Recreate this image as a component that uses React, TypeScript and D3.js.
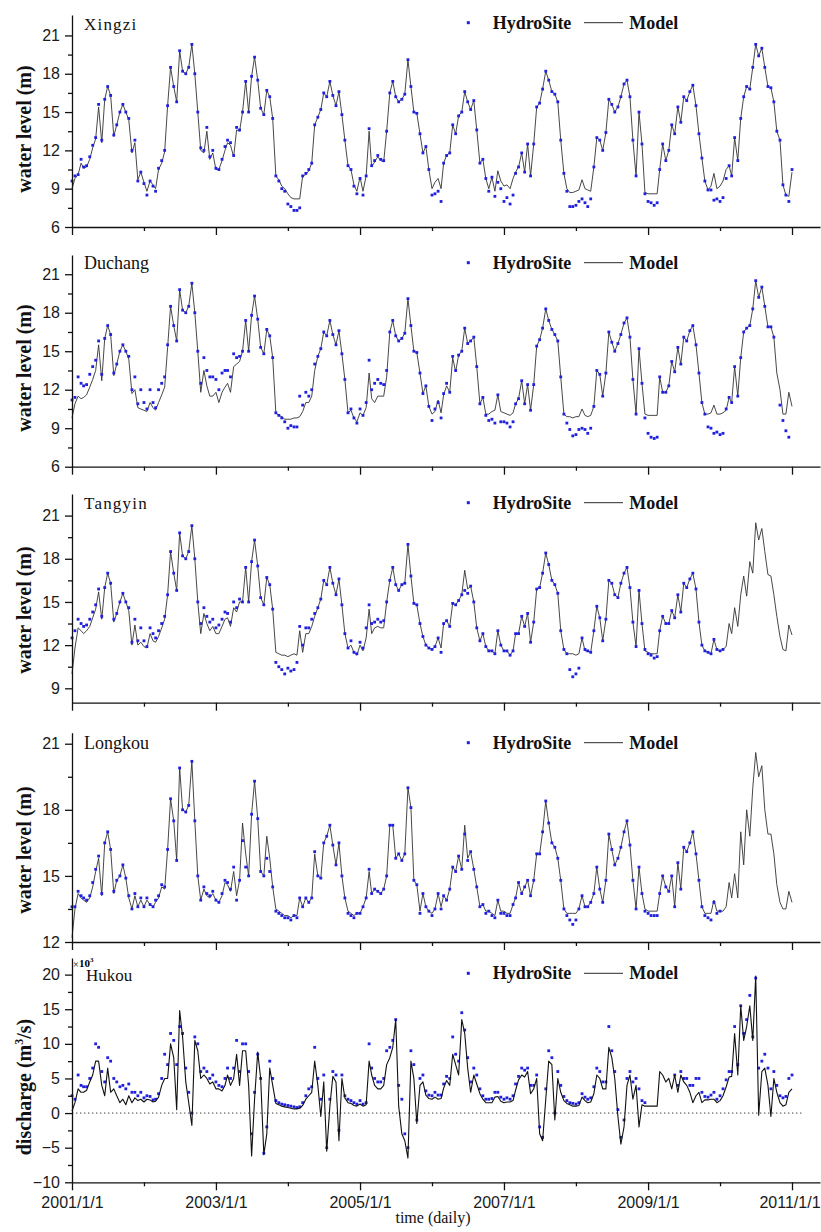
import React, { useEffect, useRef } from 'react';
import * as d3 from 'd3';

// Half-monthly readings (1st and 16th of each month), 2001/1/1 .. 2011/1/1, one row per year
const XINGZI_OBS = [
  9.6, 10.0, 10.1, 11.3, 10.7, 10.8, 11.5, 12.4, 13.0, 15.6, 12.8, 16.0, 17.0, 16.3, 13.2, 14.0, 15.0, 15.6, 15.0, 14.5, 12.0, 12.8, 9.6, 10.3,
  9.4, 8.5, 9.6, 9.2, 8.8, 10.6, 11.2, 12.0, 15.5, 18.5, 17.0, 15.8, 19.8, 18.2, 18.0, 18.5, 20.3, 18.0, 15.0, 12.2, 12.0, 13.8, 11.5, 12.0,
  10.6, 10.5, 11.3, 12.3, 12.8, 12.6, 11.6, 13.8, 13.6, 15.0, 17.4, 15.0, 17.8, 19.3, 17.5, 15.3, 14.8, 16.7, 16.2, 14.5, 10.0, 9.6, 9.0, 8.8,
  7.8, 7.6, 7.3, 7.3, 7.5, 10.0, 10.2, 10.5, 11.0, 14.0, 14.6, 15.2, 16.5, 16.2, 17.4, 16.3, 15.5, 16.6, 14.8, 12.8, 10.8, 10.5, 9.2, 8.6,
  9.8, 8.5, 10.0, 13.7, 10.8, 11.2, 11.6, 11.3, 11.2, 13.5, 16.5, 17.4, 16.2, 15.8, 16.0, 16.4, 19.1, 17.0, 15.0, 14.9, 13.3, 11.8, 12.3, 10.5,
  8.5, 8.6, 8.8, 8.0, 11.0, 11.6, 11.8, 14.0, 13.3, 14.7, 15.0, 16.6, 15.8, 15.2, 15.9, 13.6, 11.0, 11.3, 9.8, 8.8, 9.9, 8.4, 9.5, 9.0,
  8.0, 8.3, 7.8, 8.5, 10.2, 10.7, 11.8, 10.3, 12.5, 10.0, 12.5, 15.4, 15.7, 16.8, 18.2, 17.5, 16.6, 16.4, 15.8, 12.8, 10.2, 8.8, 7.6, 7.6,
  7.7, 8.0, 8.2, 7.9, 7.6, 8.2, 10.7, 13.0, 12.8, 12.0, 13.4, 16.0, 15.6, 15.0, 15.4, 16.2, 17.2, 17.5, 16.2, 12.8, 10.0, 15.0, 12.5, 8.6,
  8.0, 7.9, 7.7, 7.9, 10.5, 12.5, 11.2, 12.0, 14.0, 13.3, 15.4, 14.2, 16.2, 15.9, 16.6, 17.1, 15.5, 13.3, 11.4, 9.6, 8.9, 8.9, 8.1, 8.2,
  8.0, 8.3, 9.8, 10.8, 10.0, 13.0, 11.2, 14.5, 16.2, 17.0, 16.8, 18.5, 20.3, 19.4, 20.0, 18.5, 17.0, 16.9, 15.8, 13.5, 12.8, 9.3, 8.5, 8.0,
  10.5,
];
const XINGZI_MODEL = [
  9.0, 9.8, 10.1, 11.0, 10.6, 10.7, 11.3, 12.2, 12.9, 15.4, 12.6, 16.0, 17.0, 16.3, 13.1, 14.0, 15.0, 15.6, 15.0, 14.4, 11.8, 12.6, 9.7, 10.3,
  9.5, 8.8, 9.6, 9.3, 9.0, 10.5, 11.0, 11.9, 15.5, 18.5, 17.0, 15.8, 19.8, 18.2, 18.0, 18.5, 20.3, 18.0, 15.0, 12.0, 11.8, 13.5, 11.3, 11.8,
  10.5, 10.5, 11.2, 12.0, 12.6, 12.4, 11.5, 13.6, 13.5, 15.0, 17.4, 15.0, 17.8, 19.3, 17.5, 15.3, 14.8, 16.7, 16.2, 14.5, 10.0, 9.7, 9.2, 9.0,
  8.6, 8.3, 8.2, 8.2, 8.2, 10.0, 10.1, 10.4, 11.0, 14.0, 14.6, 15.2, 16.5, 16.2, 17.4, 16.3, 15.5, 16.6, 14.8, 12.8, 10.8, 10.5, 9.3, 8.8,
  9.9, 8.8, 10.0, 13.5, 10.7, 11.1, 11.5, 11.2, 11.1, 13.5, 16.5, 17.4, 16.2, 15.8, 16.0, 16.4, 19.1, 17.0, 15.0, 14.9, 13.3, 11.8, 12.3, 10.5,
  9.0, 9.5, 9.8, 9.0, 11.0, 11.6, 11.8, 14.0, 13.3, 14.7, 15.0, 16.6, 15.8, 15.2, 15.9, 13.6, 11.0, 11.3, 9.8, 9.0, 9.9, 8.8, 10.4, 9.6,
  9.2, 9.3, 9.0, 9.8, 10.3, 10.7, 11.8, 10.3, 12.5, 10.0, 12.5, 15.4, 15.7, 16.8, 18.2, 17.5, 16.6, 16.4, 15.8, 12.8, 10.2, 9.0, 8.7, 8.7,
  8.8, 8.9, 9.7, 9.0, 8.9, 8.8, 10.7, 13.0, 12.8, 12.0, 13.4, 16.0, 15.6, 15.0, 15.4, 16.2, 17.2, 17.5, 16.2, 12.8, 10.0, 15.0, 12.5, 8.7,
  8.6, 8.6, 8.6, 8.6, 10.5, 12.5, 11.2, 12.0, 14.0, 13.3, 15.4, 14.2, 16.2, 15.9, 16.6, 17.1, 15.5, 13.3, 11.4, 9.6, 8.9, 9.2, 10.2, 9.0,
  9.2, 9.6, 10.5, 10.8, 10.0, 13.0, 11.2, 14.5, 16.2, 17.0, 16.8, 18.5, 20.3, 19.4, 20.0, 18.5, 17.0, 16.9, 15.8, 13.5, 12.8, 9.3, 8.5, 8.4,
  10.3,
];

const DUCHANG_OBS = [
  11.2, 11.4, 13.0, 12.5, 12.3, 12.4, 13.2, 13.8, 14.3, 15.8, 13.2, 16.0, 17.0, 16.3, 13.3, 14.0, 15.0, 15.5, 15.0, 14.6, 12.0, 13.0, 10.9, 12.0,
  11.0, 10.5, 12.0, 11.0, 10.6, 12.0, 12.5, 13.0, 15.5, 18.5, 17.0, 15.8, 19.8, 18.2, 18.0, 18.5, 20.3, 18.0, 15.0, 12.5, 14.5, 13.5, 13.0, 13.0,
  12.8, 12.0, 13.3, 13.5, 13.5, 13.0, 14.8, 14.5, 14.6, 15.0, 17.4, 15.0, 17.8, 19.3, 17.5, 15.3, 14.8, 16.7, 16.2, 14.5, 10.2, 10.0, 9.8, 9.5,
  9.0, 9.2, 9.1, 9.1, 11.5, 10.8, 11.8, 11.5, 12.0, 14.0, 14.6, 15.2, 16.5, 16.2, 17.4, 16.3, 15.5, 16.6, 14.8, 12.8, 10.2, 10.5, 9.8, 9.4,
  10.5, 10.0, 11.0, 14.3, 12.0, 12.5, 12.8, 12.5, 12.4, 13.5, 16.5, 17.4, 16.2, 15.8, 16.0, 16.4, 19.1, 17.0, 15.0, 14.9, 13.3, 11.7, 12.3, 10.7,
  9.6, 10.5, 11.0, 9.8, 11.7, 12.5, 11.8, 14.6, 13.5, 14.7, 15.0, 16.8, 15.6, 15.8, 16.1, 13.8, 10.9, 11.4, 10.0, 9.6, 9.7, 9.4, 11.6, 9.5,
  9.5, 9.4, 9.1, 9.5, 10.9, 11.3, 12.7, 10.9, 12.4, 10.4, 12.4, 15.4, 15.9, 16.8, 18.3, 17.4, 16.7, 16.3, 15.8, 13.0, 10.1, 9.4, 8.9, 8.4,
  8.5, 8.9, 9.0, 8.9, 8.6, 9.0, 10.7, 13.5, 13.2, 11.5, 13.3, 16.5, 15.7, 15.0, 15.6, 16.3, 17.2, 17.6, 16.1, 12.8, 10.1, 15.2, 12.5, 9.8,
  8.6, 8.3, 8.2, 8.3, 13.0, 11.8, 11.8, 12.3, 14.2, 13.4, 15.3, 14.0, 16.1, 15.8, 16.6, 17.0, 15.5, 13.3, 11.0, 10.1, 9.1, 9.0, 8.6, 8.7,
  8.5, 8.6, 10.5, 11.4, 11.0, 13.8, 11.5, 14.5, 16.5, 16.8, 17.0, 18.3, 20.5, 19.2, 20.0, 18.5, 16.9, 16.9, 16.1, null, 10.8, 9.6, 8.8, 8.3,
  null,
];
const DUCHANG_MODEL = [
  9.8, 10.9, 11.5, 11.3, 11.4, 11.6, 12.2, 12.8, 13.5, 15.5, 12.7, 16.0, 17.0, 16.3, 13.1, 14.0, 15.0, 15.5, 15.0, 14.4, 11.7, 12.0, 10.6, 10.5,
  10.4, 10.3, 11.0, 10.6, 10.4, 11.0, 11.6, 12.2, 15.3, 18.5, 17.0, 15.8, 19.8, 18.2, 18.0, 18.5, 20.3, 18.0, 15.0, 11.8, 13.5, 12.3, 11.5, 11.5,
  11.8, 11.0, 11.8, 12.2, 12.5, 11.8, 13.8, 14.0, 14.2, 15.0, 17.4, 15.0, 17.8, 19.3, 17.5, 15.3, 14.8, 16.7, 16.2, 14.5, 10.2, 10.0, 9.9, 9.7,
  9.7, 9.7, 9.8, 9.8, 9.9, 10.3, 11.0, 11.0, 11.5, 13.5, 14.6, 15.2, 16.5, 16.2, 17.4, 16.3, 15.5, 16.6, 14.8, 12.8, 10.2, 10.4, 9.8, 9.5,
  10.2, 10.0, 10.6, 13.3, 11.3, 11.0, 11.5, 11.5, 11.5, 13.0, 16.5, 17.4, 16.2, 15.8, 16.0, 16.4, 19.1, 17.0, 15.0, 14.9, 13.3, 11.7, 12.3, 10.7,
  10.1, 10.3, 11.2, 10.2, 11.6, 12.3, 11.8, 14.5, 13.4, 14.7, 15.0, 16.8, 15.6, 15.8, 16.1, 13.8, 10.9, 11.4, 10.1, 10.1, 10.3, 10.4, 11.6, 10.3,
  10.2, 10.1, 10.0, 10.2, 10.9, 11.3, 12.7, 10.9, 12.4, 10.4, 12.4, 15.4, 15.9, 16.8, 18.3, 17.4, 16.7, 16.3, 15.8, 13.0, 10.1, 9.9, 9.9, 9.8,
  9.9, 9.9, 10.5, 10.0, 9.9, 10.0, 10.7, 13.5, 13.2, 11.5, 13.3, 16.5, 15.7, 15.0, 15.6, 16.3, 17.2, 17.6, 16.1, 12.8, 10.1, 15.2, 12.5, 10.1,
  10.0, 10.0, 10.0, 10.0, 13.0, 11.8, 11.8, 12.3, 14.2, 13.4, 15.3, 14.0, 16.1, 15.8, 16.6, 17.0, 15.5, 13.3, 11.0, 10.1, 10.1, 10.2, 10.8, 10.1,
  10.1, 10.2, 10.4, 11.4, 11.0, 13.8, 11.5, 14.5, 16.5, 16.8, 17.0, 18.3, 20.5, 19.2, 20.0, 18.5, 16.9, 16.9, 16.1, 13.3, 12.0, 10.1, 10.1, 11.8,
  10.7,
];

const TANGYIN_OBS = [
  12.5, 13.0, 13.8, 13.5, 13.3, 13.4, 13.8, 14.3, 14.8, 15.9, 14.0, 16.0, 17.0, 16.3, 13.8, 14.2, 15.0, 15.6, 15.0, 14.6, 12.2, 13.8, 12.3, 13.2,
  12.3, 11.9, 13.2, 12.8, 12.5, 13.0, 13.5, 14.0, 15.5, 18.5, 17.0, 15.8, 19.8, 18.2, 18.0, 18.5, 20.3, 18.0, 15.0, 13.5, 14.6, 14.0, 13.6, 13.8,
  13.2, 13.4, 13.8, 14.3, 14.2, 13.6, 15.0, 14.6, 15.2, 15.0, 17.4, 15.0, 17.8, 19.3, 17.5, 15.3, 14.8, 16.7, 16.2, 14.5, 10.8, 10.5, 10.3, 10.0,
  10.4, 10.2, 10.3, 10.8, 13.3, 12.0, 13.2, 13.2, 13.8, 14.2, 14.6, 15.2, 16.5, 16.2, 17.4, 16.3, 15.5, 16.6, 14.8, 12.8, 11.8, 12.3, 11.5, 11.4,
  12.2, 11.8, 13.2, 14.8, 13.5, 13.6, 13.8, 13.6, 13.7, 15.0, 16.5, 17.4, 16.2, 15.8, 16.2, 16.3, 19.0, 16.8, 14.9, 14.8, 13.5, 12.6, 12.0, 11.8,
  11.7, 11.9, 12.5, 11.5, 13.5, 13.7, 13.3, 14.9, 14.8, 15.1, 15.5, 15.8, 15.6, 16.1, 15.0, 13.2, 12.3, 12.8, 11.9, 11.6, 11.6, 11.4, 13.0, 12.0,
  11.6, 11.6, 11.3, 11.6, 12.8, 12.8, 14.0, 13.3, 14.2, 12.2, 13.6, 15.9, 16.0, 17.0, 18.4, 17.6, 16.5, 16.2, 15.6, 13.0, 11.7, 11.4, 10.3, 9.8,
  10.0, 10.4, 12.5, 11.7, 11.6, 11.5, 13.0, 14.7, 13.9, 12.3, 13.8, 16.5, 16.3, 15.5, 15.3, 16.3, 17.0, 17.4, 16.0, 13.6, 11.9, 15.8, 13.5, 11.7,
  11.4, 11.3, 11.1, 11.2, 13.0, 14.0, 13.5, 13.5, 14.4, 13.9, 15.5, 14.3, 16.3, 16.0, 16.6, 17.0, 15.9, 13.6, 12.0, 11.6, 11.5, 11.4, 12.4, 11.7,
  11.6, 11.7, null, null, null, null, null, null, null, null, null, null, null, null, null, null, null, null, null, null, null, null, null, null,
  null,
];
const TANGYIN_MODEL = [
  10.0, 11.8, 13.2, 13.0, 12.8, 13.0, 13.3, 13.9, 14.5, 15.7, 13.8, 16.0, 17.0, 16.3, 13.6, 14.2, 15.0, 15.6, 15.0, 14.4, 12.0, 13.4, 12.0, 12.2,
  11.9, 11.8, 12.8, 12.3, 12.2, 12.6, 13.2, 13.8, 15.5, 18.5, 17.0, 15.8, 19.8, 18.2, 18.0, 18.5, 20.3, 18.0, 15.0, 12.8, 14.2, 13.5, 13.0, 13.3,
  12.8, 12.8, 13.3, 13.8, 13.9, 13.3, 14.6, 14.3, 15.0, 15.0, 17.4, 15.0, 17.8, 19.3, 17.5, 15.3, 14.8, 16.7, 16.2, 14.5, 11.5, 11.4, 11.3, 11.3,
  11.2, 11.3, 11.4, 11.3, 13.0, 11.5, 12.8, 12.8, 13.3, 14.0, 14.6, 15.2, 16.5, 16.2, 17.4, 16.3, 15.5, 16.6, 14.8, 12.8, 11.8, 12.0, 11.5, 11.3,
  12.0, 11.6, 12.5, 14.5, 12.8, 13.2, 13.3, 13.2, 13.2, 15.0, 16.5, 17.4, 16.2, 15.8, 16.2, 16.3, 19.0, 16.8, 14.9, 14.8, 13.5, 12.6, 12.0, 11.8,
  11.7, 11.9, 12.5, 11.8, 13.5, 13.7, 13.3, 14.9, 14.8, 15.1, 15.5, 17.2, 15.9, 16.1, 15.0, 13.2, 12.3, 12.8, 11.9, 11.6, 11.6, 11.4, 13.0, 12.0,
  11.6, 11.6, 11.3, 11.6, 12.8, 12.8, 14.0, 13.3, 14.2, 12.2, 13.6, 15.9, 16.0, 17.0, 18.4, 17.6, 16.5, 16.2, 15.6, 13.0, 11.7, 11.4, 11.4, 11.4,
  11.3, 11.4, 12.5, 11.6, 11.6, 11.5, 13.0, 14.7, 13.9, 12.3, 13.8, 16.5, 16.3, 15.5, 15.3, 16.3, 17.0, 17.4, 16.0, 13.6, 11.9, 15.8, 13.5, 11.6,
  11.5, 11.4, 11.4, 11.4, 13.0, 14.0, 13.5, 13.5, 14.4, 13.9, 15.5, 14.3, 16.3, 16.0, 16.6, 17.0, 15.9, 13.6, 12.0, 11.6, 11.5, 11.4, 12.4, 11.7,
  11.6, 11.7, 11.9, 13.5, 12.8, 14.6, 13.3, 15.5, 16.8, 15.4, 17.8, 17.0, 20.5, 19.3, 20.1, 18.5, 16.9, 16.8, 15.5, 14.0, 12.6, 11.7, 11.6, 13.4,
  12.7,
];

const LONGKOU_OBS = [
  13.6, 13.6, 14.3, 14.1, 14.0, 13.9, 14.1, 14.7, 15.3, 15.9, 14.2, 16.5, 17.0, 16.2, 14.3, 14.8, 15.0, 15.5, 14.9, 14.1, 13.5, 14.2, 13.6, 14.0,
  13.6, 14.0, 13.7, 13.6, 13.9, 14.1, 14.6, 14.5, 16.2, 18.5, 17.5, 15.7, 19.9, 18.0, 17.9, 18.2, 20.2, 17.5, 15.0, 13.9, 14.5, 14.2, 14.1, 14.3,
  13.9, 13.8, 14.2, 14.8, 14.7, 14.4, 15.4, 13.9, 14.8, 16.6, 15.4, 15.0, 17.8, 19.3, 17.6, 15.2, 15.0, 15.8, 15.2, 14.5, 13.4, 13.3, 13.2, 13.1,
  13.1, 13.0, 13.2, 13.1, 14.0, 13.6, 14.0, 13.8, 14.0, 16.1, 15.0, 14.9, 16.5, 16.8, 17.3, 16.4, 15.5, 16.5, 15.0, 14.0, 13.3, 13.2, 13.1, 13.3,
  13.3, 13.6, 14.0, 15.3, 14.2, 14.4, 14.3, 14.2, 14.4, 15.0, 17.3, 17.3, 15.8, 16.0, 15.7, 16.0, 19.0, 18.1, 14.8, 14.6, 13.3, 14.2, 13.6, 13.4,
  13.2, 13.5, 14.2, 13.5, 14.1, 13.9, 14.4, 15.4, 15.2, 15.9, 15.3, 16.9, 15.7, 16.1, 15.3, 14.5, 13.6, 13.7, 13.3, 13.4, 13.2, 13.1, 13.9, 13.3,
  13.3, 13.2, 13.2, 13.7, 14.0, 14.7, 14.2, 14.5, 14.8, 14.1, 14.8, 16.0, 16.0, 17.0, 18.4, 17.4, 16.5, 16.3, 15.8, 14.8, 13.5, 13.2, 13.0, 12.8,
  13.0, 13.5, 14.1, 13.6, 13.6, 13.8, 14.2, 15.4, 14.4, 13.8, 14.8, 16.9, 16.2, 15.5, 15.8, 16.3, 17.0, 17.5, 16.4, 14.8, 13.5, 15.4, 14.2, 13.4,
  13.3, 13.2, 13.2, 13.2, 14.2, 15.0, 14.5, 14.3, 15.0, 13.6, 15.6, 14.4, 16.3, 16.1, 16.5, 17.0, 16.0, 14.8, 13.6, 13.2, 13.1, 13.0, 13.8, 13.3,
  13.4, null, null, null, null, null, null, null, null, null, null, null, null, null, null, null, null, null, null, null, null, null, null, null,
  null,
];
const LONGKOU_MODEL = [
  12.2, 13.5, 14.2, 14.0, 13.9, 13.8, 14.0, 14.5, 15.2, 15.8, 14.1, 16.5, 17.0, 16.2, 14.2, 14.8, 15.0, 15.5, 14.9, 14.0, 13.5, 14.1, 13.6, 13.9,
  13.6, 13.9, 13.7, 13.6, 13.8, 14.0, 14.5, 14.4, 16.2, 18.5, 17.5, 15.7, 19.9, 18.0, 17.9, 18.2, 20.2, 17.5, 15.0, 13.9, 14.4, 14.1, 14.0, 14.2,
  13.9, 13.8, 14.1, 14.7, 14.6, 14.3, 15.2, 14.1, 14.8, 17.4, 16.0, 15.0, 17.8, 19.3, 17.6, 15.2, 15.0, 16.8, 15.8, 14.5, 13.5, 13.4, 13.3, 13.2,
  13.2, 13.1, 13.2, 13.2, 14.0, 13.6, 14.0, 13.8, 14.0, 16.0, 15.0, 14.9, 16.5, 16.8, 17.3, 16.4, 15.5, 16.5, 15.0, 14.0, 13.4, 13.3, 13.2, 13.3,
  13.3, 13.6, 14.0, 15.2, 14.2, 14.4, 14.3, 14.2, 14.4, 15.0, 17.3, 17.3, 15.8, 16.0, 15.7, 16.0, 19.0, 18.1, 14.8, 14.6, 13.4, 14.2, 13.6, 13.4,
  13.3, 13.5, 14.2, 13.6, 14.1, 13.9, 14.4, 15.4, 15.2, 15.9, 15.3, 17.3, 15.8, 16.1, 15.3, 14.5, 13.6, 13.7, 13.4, 13.4, 13.3, 13.2, 13.9, 13.4,
  13.4, 13.3, 13.3, 13.7, 14.0, 14.7, 14.2, 14.5, 14.8, 14.1, 14.8, 16.0, 16.0, 17.0, 18.4, 17.4, 16.5, 16.3, 15.8, 14.8, 13.5, 13.3, 13.3, 13.3,
  13.3, 13.5, 14.1, 13.6, 13.6, 13.8, 14.2, 15.4, 14.4, 13.8, 14.8, 16.9, 16.2, 15.5, 15.8, 16.3, 17.0, 17.5, 16.4, 14.8, 13.5, 15.4, 14.2, 13.5,
  13.4, 13.4, 13.4, 13.4, 14.2, 15.0, 14.5, 14.3, 15.0, 13.6, 15.6, 14.4, 16.3, 16.1, 16.5, 17.0, 16.0, 14.8, 13.6, 13.3, 13.3, 13.3, 13.9, 13.4,
  13.4, 13.4, 13.6, 14.7, 14.0, 15.1, 14.0, 17.0, 15.5, 18.0, 16.8, 19.0, 20.6, 19.5, 20.0, 18.0, 16.9, 16.9, 16.0, 14.6, 13.8, 13.5, 13.5, 14.3,
  13.8,
];

// discharge, x10^3 m3/s
const HUKOU_OBS = [
  2.5, 2.0, 5.5, 4.0, 3.8, 3.8, 5.0, 6.5, 10.0, 9.5, 6.0, 4.5, 8.0, 7.5, 5.0, 4.5, 3.8, 4.0, 3.5, 4.2, 3.0, 3.0, 2.5, 3.0,
  2.2, 2.5, 2.4, 1.9, 2.0, 2.8, 5.0, 8.5, 7.0, 11.5, 10.5, 7.0, 12.5, 11.5, 6.5, 3.0, 0.0, 11.0, 10.0, 6.0, 6.5, 6.0, 5.0, 5.5,
  4.5, 4.0, 3.8, 5.0, 6.5, 5.0, 6.5, 10.5, 6.0, 10.0, 10.0, 6.0, -3.0, 3.0, 8.5, 5.0, -5.8, -2.0, 7.5, 5.0, 1.8, 1.5, 1.3, 1.2,
  1.1, 1.0, 0.9, 0.8, 0.9, 1.5, 2.5, 3.5, 3.8, 9.5, 5.0, 2.0, 5.5, -5.0, 2.0, 6.0, 5.5, -2.5, 5.5, 2.5, 2.0, 1.8, 1.5, 1.3,
  1.8, 1.3, 1.5, 10.0, 6.5, 5.0, 4.5, 4.5, 5.0, 9.0, 9.5, 10.5, 13.5, 4.0, 2.0, -3.0, -5.0, 9.0, 7.0, -1.0, 5.0, 5.5, 3.2, 2.6,
  2.5, 3.0, 2.6, 2.6, 4.2, 5.3, 5.0, 11.0, 8.5, 7.5, 14.5, 12.0, 8.0, 4.5, 6.5, 5.5, 3.5, 2.5, 2.0, 2.0, 2.1, 3.0, 3.0, 2.3,
  2.0, 2.2, 2.0, 2.5, 4.2, 5.3, 6.5, 6.2, 6.5, 4.0, 4.0, 5.5, -2.0, -3.5, 3.5, 9.0, 8.0, 0.0, 6.0, 4.0, 2.4, 1.8, 1.5, 1.4,
  1.3, 1.5, 2.8, 2.3, 2.0, 2.2, 3.8, 6.5, 6.0, 4.5, 4.5, 12.5, 9.0, 6.0, 0.5, -3.5, -1.0, 5.0, 6.0, 4.5, 5.0, 3.5, 1.8, 1.5,
  null, null, null, null, null, null, null, null, null, 5.5, 4.0, 6.0, 5.0, 5.0, 4.0, 4.0, 5.0, 5.0, 3.0, 2.4, 2.3, 2.6, 3.0, 2.0,
  2.5, 3.5, 4.8, 6.0, 6.0, 12.5, 7.0, 15.5, 11.5, 13.5, 17.0, 11.0, 19.5, 6.5, 7.5, 8.5, 6.5, 3.5, 6.0, 4.0, 2.5, 2.2, 2.4, 5.0,
  5.5,
];
const HUKOU_MODEL = [
  0.3, 1.5, 3.5, 3.0, 3.0, 3.3, 4.5, 5.5, 7.5, 7.5, 4.0, 2.5, 6.5, 3.0, 3.5, 2.5, 1.5, 2.0, 1.2, 2.5, 1.5, 2.2, 1.8, 2.0,
  1.6, 2.0, 1.9, 1.6, 1.7, 2.3, 4.0, 5.0, 5.0, 10.0, 8.0, 0.5, 14.8, 11.0, 4.5, 1.5, -1.8, 10.5, 9.0, 5.0, 5.5, 5.0, 4.2, 4.5,
  3.5, 3.5, 3.2, 4.0, 5.5, 4.0, 5.0, 8.5, 4.0, 9.0, 9.0, 4.0, -6.2, 2.0, 8.8, 5.0, -6.0, -3.0, 6.5, 4.0, 1.4, 1.2, 1.0, 0.9,
  0.8, 0.7, 0.6, 0.6, 0.7, 1.1, 2.0, 2.5, 3.0, 7.5, 4.0, -0.5, 4.5, -5.5, 1.0, 5.3, 4.5, -4.0, 5.0, 2.2, 1.5, 1.4, 1.1, 1.0,
  1.3, 1.0, 1.2, 7.5, 5.5, 4.0, 3.5, 3.5, 4.0, 7.0, 8.0, 9.5, 13.5, 1.0, -3.0, -4.0, -6.5, 7.5, 5.0, -1.5, 4.0, 4.5, 2.6, 2.1,
  2.0, 2.3, 2.0, 2.1, 3.6, 4.7, 4.0, 8.5, 7.0, 5.5, 13.5, 11.5, 6.5, 3.0, 5.5, 4.2, 2.8, 2.0, 1.5, 1.5, 1.5, 2.3, 2.4, 1.7,
  1.5, 1.6, 1.6, 1.8, 3.3, 4.8, 5.5, 5.2, 6.0, 2.8, 3.5, 5.0, -3.0, -4.0, 2.0, 7.5, 7.0, -1.0, 5.0, 3.0, 1.8, 1.4, 1.2, 1.0,
  1.0, 1.1, 2.3, 1.8, 1.5, 1.6, 2.8, 5.5, 5.0, 3.5, 3.5, 9.5, 8.0, 5.0, -0.5, -4.5, -2.0, 4.0, 5.5, 2.0, 4.0, -2.0, 1.2, 1.0,
  1.0, 1.0, 1.0, 1.0, 6.0, 5.5, 4.5, 5.0, 3.5, 5.5, 3.0, 5.5, 4.5, 4.0, 3.0, 1.5, 2.5, 3.0, 1.5, 1.9, 1.9, 2.0, 2.0, 1.5,
  1.8, 2.5, 3.8, 5.2, 5.3, 11.5, 5.5, 15.5, 10.5, 12.5, 15.5, 10.5, 19.8, -0.3, 6.0, 6.5, 4.0, -0.5, 5.0, 3.0, 1.5, 1.0, 1.2, 3.0,
  3.5,
];

const MAJOR_YEARS = [2001, 2003, 2005, 2007, 2009, 2011];
const MINOR_YEARS = [2002, 2004, 2006, 2008, 2010];

const SERIF = '"Liberation Serif", "Times New Roman", serif';
const SANS = '"Liberation Sans", Arial, sans-serif';
const BLUE = '#1f1fdd';

// sample dates: 1st and 16th of each month
const sampleDates = d3.range(XINGZI_OBS.length).map(
  (i) => new Date(2001 + Math.floor(i / 24), Math.floor((i % 24) / 2), i % 2 ? 16 : 1)
);

const PANELS = [
  { name: 'Xingzi', obs: XINGZI_OBS, model: XINGZI_MODEL, domain: [6, 22.6], top: 15, bottom: 227,
    major: [6, 9, 12, 15, 18, 21], minor: [7.5, 10.5, 13.5, 16.5, 19.5], label: 'water level (m)', labelY: 129,
    nameY: 30, nameSize: 17, nameSpacing: 1.2, legendY: 22.7 },
  { name: 'Duchang', obs: DUCHANG_OBS, model: DUCHANG_MODEL, domain: [6, 22.5], top: 255, bottom: 466.7,
    major: [6, 9, 12, 15, 18, 21], minor: [7.5, 10.5, 13.5, 16.5, 19.5], label: 'water level (m)', labelY: 368,
    nameY: 269, nameSize: 18, nameSpacing: 0, legendY: 262.7 },
  { name: 'Tangyin', obs: TANGYIN_OBS, model: TANGYIN_MODEL, domain: [8, 22.5], top: 494, bottom: 702.7,
    major: [9, 12, 15, 18, 21], minor: [10.5, 13.5, 16.5, 19.5], label: 'water level (m)', labelY: 610,
    nameY: 509, nameSize: 17, nameSpacing: 1.2, legendY: 502.7 },
  { name: 'Longkou', obs: LONGKOU_OBS, model: LONGKOU_MODEL, domain: [12, 21.5], top: 732.7, bottom: 942,
    major: [12, 15, 18, 21], minor: [13.5, 16.5, 19.5], label: 'water level (m)', labelY: 850,
    nameY: 749, nameSize: 18, nameSpacing: 0, legendY: 742.7 },
  { name: 'Hukou', obs: HUKOU_OBS, model: HUKOU_MODEL, domain: [-10, 22.4], top: 958, bottom: 1182.3,
    major: [-10, -5, 0, 5, 10, 15, 20], minor: [-7.5, -2.5, 2.5, 7.5, 12.5, 17.5], label: 'discharge', labelY: 1087,
    nameY: 981, nameSize: 17, nameSpacing: 0, legendY: 973.3, zeroLine: true },
];

export default function App() {
  const ref = useRef<SVGSVGElement | null>(null);

  useEffect(() => {
    const svg = d3.select(ref.current);
    svg.selectAll('*').remove();

    const x = d3.scaleTime().domain([new Date(2001, 0, 1), new Date(2011, 4, 23)]).range([72, 820]);
    const fmt = d3.timeFormat('%Y/%-m/%-d');

    PANELS.forEach((p, pi) => {
      const y = d3.scaleLinear().domain(p.domain).range([p.bottom, p.top]);
      const g = svg.append('g');
      const isDischarge = !!p.zeroLine;

      if (p.zeroLine) {
        g.append('line')
          .attr('x1', 72).attr('x2', 804)
          .attr('y1', y(0)).attr('y2', y(0))
          .attr('stroke', '#444').attr('stroke-width', 1)
          .attr('stroke-dasharray', '1.4,2.6');
      }

      const line = d3.line<number | null>()
        .defined((v) => v != null)
        .x((_, i) => x(sampleDates[i]))
        .y((v) => y(v as number));

      const drawLine = () =>
        g.append('path')
          .attr('d', line(p.model))
          .attr('fill', 'none')
          .attr('stroke', isDischarge ? '#111' : '#333')
          .attr('stroke-width', isDischarge ? 1.1 : 0.9)
          .attr('stroke-linejoin', 'round');

      const pts = p.obs
        .map((v, i) => ({ v, t: sampleDates[i] }))
        .filter((d) => d.v != null);
      const drawDots = () =>
        g.append('g').selectAll('rect').data(pts).join('rect')
          .attr('x', (d) => x(d.t) - 1.4)
          .attr('y', (d) => y(d.v as number) - 1.4)
          .attr('width', 2.8).attr('height', 2.8)
          .attr('fill', BLUE);

      // water levels: dots over the line; discharge: line over the dots
      if (isDischarge) { drawDots(); drawLine(); } else { drawLine(); drawDots(); }

      // y axis
      const ya = g.append('g').attr('transform', 'translate(72,0)');
      ya.call(d3.axisLeft(y).tickValues(p.major).tickSize(7).tickSizeOuter(0).tickPadding(5).tickFormat(d3.format('d')));
      ya.append('g')
        .call(d3.axisLeft(y).tickValues(p.minor).tickSize(4).tickSizeOuter(0).tickFormat(() => ''))
        .call((s) => s.select('.domain').remove());
      ya.attr('font-family', SANS).attr('font-size', 16);
      ya.selectAll('text').attr('fill', '#1a1a1a');
      ya.selectAll('line, path').attr('stroke', '#111').attr('stroke-width', 1.3);

      // x axis
      const xa = g.append('g').attr('transform', `translate(0,${p.bottom})`);
      const last = pi === PANELS.length - 1;
      xa.call(
        d3.axisBottom(x)
          .tickValues(MAJOR_YEARS.map((yr) => new Date(yr, 0, 1)))
          .tickSize(8).tickSizeOuter(0).tickPadding(6)
          .tickFormat((d) => (last ? fmt(d as Date) : ''))
      );
      xa.append('g')
        .call(d3.axisBottom(x).tickValues(MINOR_YEARS.map((yr) => new Date(yr, 0, 1))).tickSize(4).tickSizeOuter(0).tickFormat(() => ''))
        .call((s) => s.select('.domain').remove());
      xa.attr('font-family', SANS).attr('font-size', 16);
      xa.selectAll('text').attr('fill', '#1a1a1a');
      // last label sits at the page edge in the original
      xa.selectAll<SVGTextElement, Date>('.tick text').filter((d) => d.getFullYear() === 2011).attr('dx', -2.5);
      xa.selectAll('line, path').attr('stroke', '#111').attr('stroke-width', 1.3);

      // y label
      const lab = g.append('text')
        .attr('transform', `translate(31,${p.labelY}) rotate(-90)`)
        .attr('text-anchor', 'middle')
        .attr('font-family', SERIF).attr('font-weight', 'bold').attr('font-size', 20)
        .attr('fill', '#111');
      if (p.label === 'discharge') {
        lab.append('tspan').text('discharge (m');
        lab.append('tspan').attr('font-size', 12).attr('dy', -8).text('3');
        lab.append('tspan').attr('dy', 8).text('/s)');
      } else {
        lab.text(p.label);
      }

      // station name
      g.append('text')
        .attr('x', p.name === 'Hukou' ? 86 : 84).attr('y', p.nameY)
        .attr('font-family', SERIF).attr('font-size', p.nameSize)
        .attr('letter-spacing', p.nameSpacing)
        .attr('fill', '#111')
        .text(p.name);

      if (p.name === 'Hukou') {
        g.append('text').attr('x', 73).attr('y', 968).attr('font-family', SERIF).attr('font-size', 10).text('×');
        g.append('text').attr('x', 79).attr('y', 967).attr('font-family', SERIF).attr('font-weight', 'bold').attr('font-size', 11).text('10');
        g.append('text').attr('x', 90).attr('y', 962).attr('font-family', SERIF).attr('font-weight', 'bold').attr('font-size', 7).text('3');
      }

      // legend
      const lg = g.append('g').attr('font-family', SERIF).attr('font-weight', 'bold').attr('font-size', 18).attr('fill', '#111');
      lg.append('rect').attr('x', 468.3 - 1.5).attr('y', p.legendY - 1.5).attr('width', 3).attr('height', 3).attr('fill', BLUE);
      lg.append('text').attr('x', 492.7).attr('y', p.legendY + 6).text('HydroSite');
      lg.append('line').attr('x1', 584).attr('x2', 623).attr('y1', p.legendY).attr('y2', p.legendY)
        .attr('stroke', '#2a2a2a').attr('stroke-width', 1);
      lg.append('text').attr('x', 629.3).attr('y', p.legendY + 6).text('Model');
    });

    svg.append('text')
      .attr('x', 433).attr('y', 1223)
      .attr('text-anchor', 'middle')
      .attr('font-family', SERIF).attr('font-size', 16)
      .attr('fill', '#111')
      .text('time (daily)');
  }, []);

  return (
    <svg
      ref={ref}
      width={821}
      height={1232}
      style={{ position: 'absolute', left: 0, top: 0, background: '#fff' }}
    />
  );
}
